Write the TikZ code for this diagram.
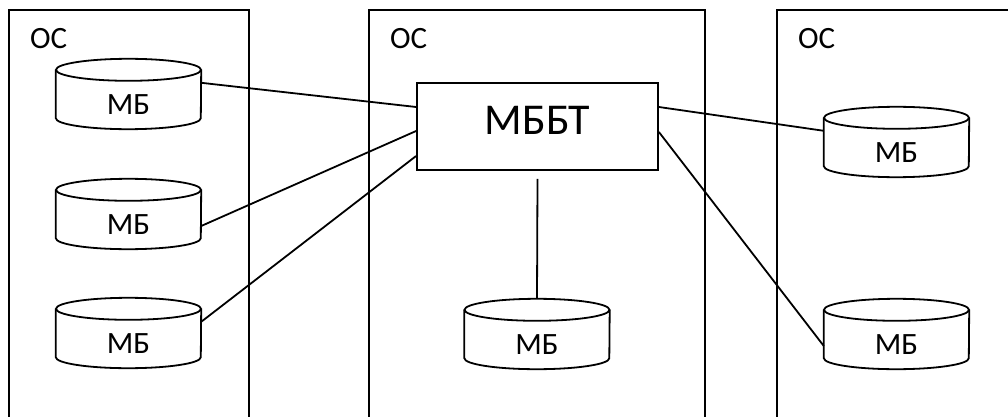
\documentclass[tikz,border=0pt]{standalone}
\usepackage{fontspec}
\setmainfont{Carlito}
\tikzset{
  ln/.style={line width=1.8pt, line cap=butt, line join=miter},
  osframe/.style={ln},
  oslabel/.style={anchor=base west, inner sep=0pt, font=\fontsize{31}{36}\selectfont},
  dbbody/.style={minimum width=145pt, minimum height=48pt, inner sep=0pt, font=\fontsize{31}{36}\selectfont},
  bigbox/.style={ln, draw, minimum width=241pt, minimum height=87pt, inner sep=0pt},
  biglabel/.style={inner sep=0pt, font=\fontsize{44}{50}\selectfont},
  conn/.style={ln}
}
\newcommand\dbcyl[1]{%
  \draw[ln] ([yshift=11pt]#1.north) ellipse[x radius=72.5pt, y radius=11pt];
  \draw[ln] ([yshift=11pt]#1.north west) -- ([yshift=11pt]#1.south west)
    arc[start angle=180, end angle=360, x radius=72.5pt, y radius=11pt]
    -- ([yshift=11pt]#1.north east);
}
\begin{document}
\begin{tikzpicture}[x=1pt,y=-1pt]
\useasboundingbox (0,0) rectangle (1008,417);
\fill[white] (0,0) rectangle (1008,417);
% OS frames
\draw[osframe] (9,417) -- (9,10) -- (249,10) -- (249,417);
\draw[osframe] (369,417) -- (369,10) -- (705,10) -- (705,417);
\draw[osframe] (777,417) -- (777,10) -- (1008,10);
\node[oslabel] (os1) at (30,49) {ОС};
\node[oslabel] (os2) at (390,49) {ОС};
\node[oslabel] (os3) at (798,49) {ОС};
% databases
\node[dbbody] (l1) at (128.5,105) {МБ};
\node[dbbody] (l2) at (128.5,225) {МБ};
\node[dbbody] (l3) at (128.5,344) {МБ};
\node[dbbody] (m1) at (537,345) {МБ};
\node[dbbody] (r1) at (896.5,153) {МБ};
\node[dbbody] (r2) at (896.5,345) {МБ};
\dbcyl{l1}\dbcyl{l2}\dbcyl{l3}\dbcyl{m1}\dbcyl{r1}\dbcyl{r2}
% central box
\node[bigbox] (mbbt) at (537.5,126.5) {};
\node[biglabel] (mbbtlabel) at ([yshift=6pt]mbbt.center) {МББТ};
% connectors
\draw[conn] ([yshift=-2pt]l1.north east) -- ([yshift=19.5pt]mbbt.west);
\draw[conn] ([yshift=-1pt]l2.east) -- ([yshift=-4.5pt]mbbt.west);
\draw[conn] ([yshift=-2pt]l3.north east) -- ([yshift=-29.5pt]mbbt.west);
\draw[conn] ([yshift=19.5pt]mbbt.east) -- ([yshift=-2pt]r1.north west);
\draw[conn] ([yshift=-5.5pt]mbbt.east) -- ([yshift=-1pt]r2.west);
\coordinate (mtop) at ([yshift=-8pt]mbbt.south);
\draw[conn] (mtop) -- ([yshift=22pt]m1.north);
\end{tikzpicture}
\end{document}
